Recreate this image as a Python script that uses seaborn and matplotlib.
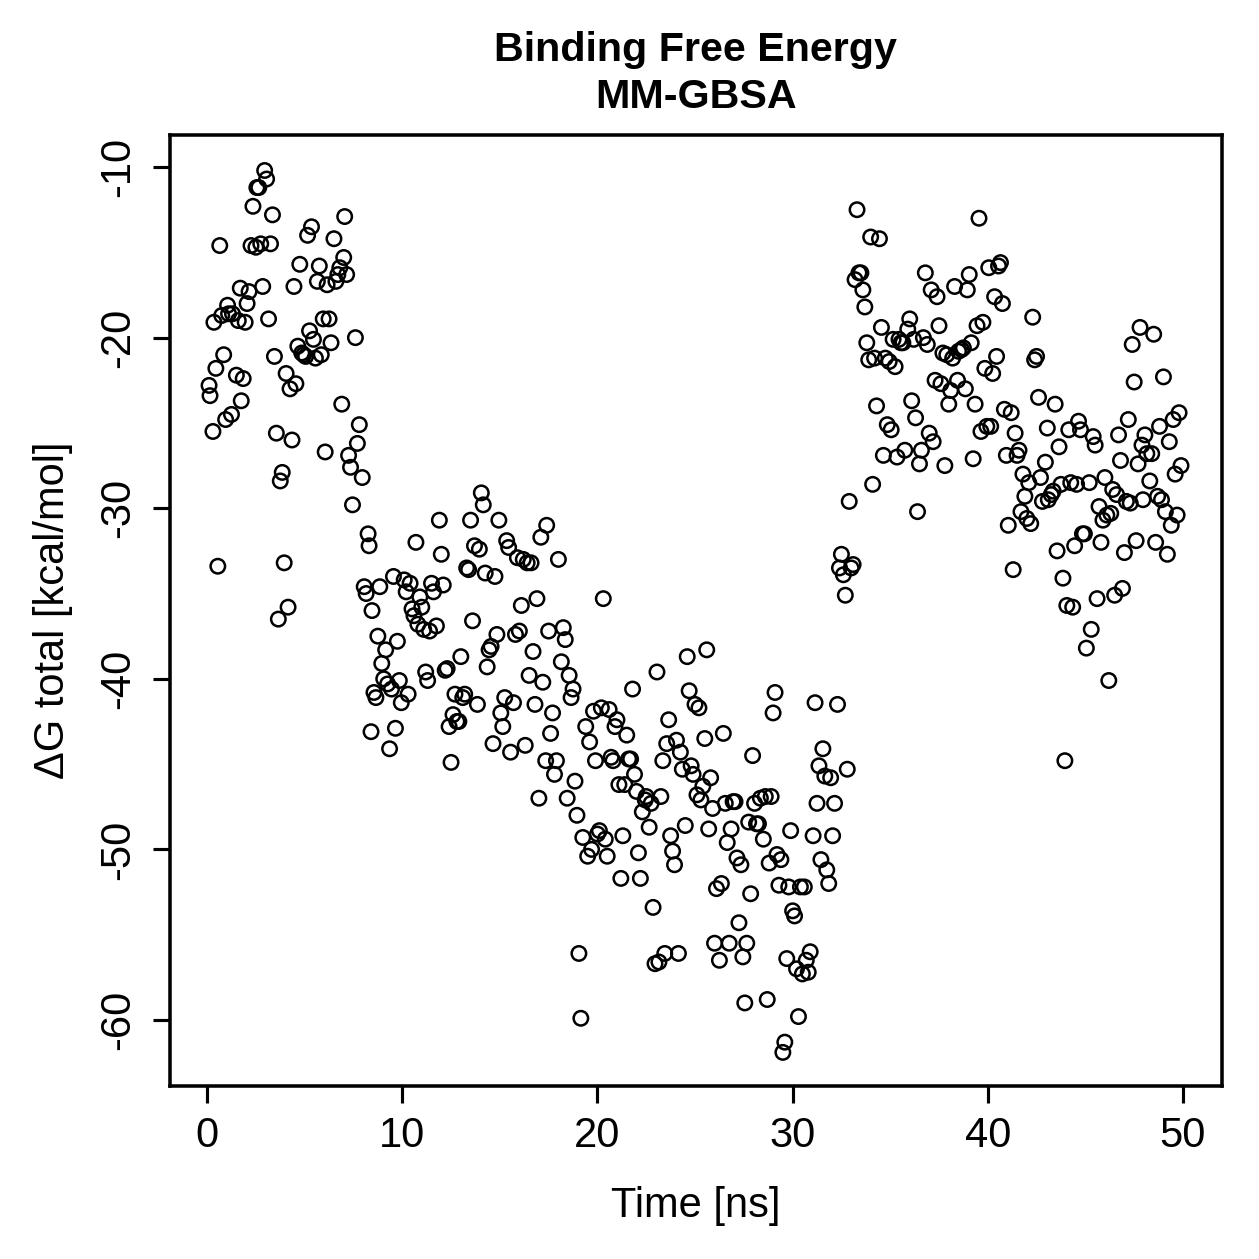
import numpy as np
import pandas as pd
import matplotlib
matplotlib.use("Agg")
import matplotlib.pyplot as plt
import seaborn as sns

time_ns = [
    0.1, 0.15, 0.3, 0.35, 0.45, 0.55, 0.65, 0.75, 0.85, 0.95, 1.05, 1.1, 1.25, 1.3, 1.5, 1.6, 1.7, 1.75, 1.85, 1.95,
    2.05, 2.15, 2.25, 2.35, 2.5, 2.55, 2.65, 2.75, 2.85, 2.95, 3.05, 3.15, 3.25, 3.35, 3.45, 3.55, 3.65, 3.75, 3.85, 3.95,
    4.05, 4.15, 4.25, 4.35, 4.45, 4.55, 4.65, 4.75, 4.85, 4.95,
    5.05, 5.15, 5.25, 5.35, 5.45, 5.55, 5.65, 5.75, 5.85, 5.95, 6.05, 6.15, 6.25, 6.35, 6.5, 6.6, 6.7, 6.8, 6.9, 7.0,
    7.05, 7.15, 7.25, 7.35, 7.45, 7.6, 7.7, 7.8, 7.95, 8.05, 8.15, 8.25, 8.3, 8.45, 8.55, 8.65, 8.75, 8.4, 8.85, 8.95,
    9.05, 9.15, 9.25, 9.35, 9.45, 9.55, 9.65, 9.75, 9.85, 9.95,
    10.1, 10.2, 10.3, 10.4, 10.5, 10.6, 10.7, 10.8, 10.9, 11.0, 11.1, 11.2, 11.3, 11.4, 11.5, 11.6, 11.75, 11.9, 12.0, 12.1,
    12.2, 12.3, 12.4, 12.5, 12.6, 12.7, 12.8, 12.9, 13.0, 13.1, 13.2, 13.3, 13.4, 13.5, 13.6, 13.7, 13.85, 13.95, 14.05, 14.15,
    14.25, 14.35, 14.45, 14.55, 14.65, 14.75, 14.85, 14.95,
    15.05, 15.15, 15.25, 15.35, 15.45, 15.55, 15.7, 15.8, 15.9, 16.0, 16.1, 16.2, 16.3, 16.4, 16.5, 16.6, 16.7, 16.8, 16.9, 17.0,
    17.1, 17.2, 17.35, 17.4, 17.5, 17.6, 17.7, 17.8, 17.9, 18.0, 18.15, 18.25, 18.35, 18.45, 18.55, 18.65, 18.75, 18.85, 18.95, 19.05,
    19.15, 19.25, 19.4, 19.5, 19.6, 19.7, 19.8, 19.9, 20.0,
    20.1, 20.2, 20.3, 20.4, 20.5, 20.6, 20.7, 20.8, 20.9, 21.0, 21.1, 21.2, 21.3, 21.4, 21.5, 21.6, 21.7, 21.8, 21.9, 22.0,
    22.1, 22.2, 22.3, 22.45, 22.5, 22.65, 22.75, 22.85, 22.95, 23.05, 23.15, 23.25, 23.35, 23.45, 23.55, 23.65, 23.75, 23.85, 23.95, 24.05,
    24.15, 24.25, 24.35, 24.5, 24.6, 24.7, 24.8, 24.9, 25.0,
    25.1, 25.2, 25.3, 25.4, 25.5, 25.6, 25.7, 25.8, 25.9, 26.0, 26.1, 26.25, 26.35, 26.45, 26.55, 26.65, 26.75, 26.85, 26.95, 27.05,
    27.15, 27.25, 27.35, 27.45, 27.55, 27.65, 27.75, 27.85, 27.95, 28.05, 28.15, 28.25, 28.35, 28.5, 28.6, 28.7, 28.8, 28.9, 29.0, 29.1,
    29.2, 29.3, 29.4, 29.5, 29.6, 29.7, 29.8, 29.9, 30.0,
    30.1, 30.2, 30.3, 30.4, 30.5, 30.6, 30.7, 30.8, 30.9, 31.05, 31.15, 31.25, 31.35, 31.45, 31.55, 31.65, 31.75, 31.85, 31.95, 32.05,
    32.15, 32.3, 32.4, 32.5, 32.6, 32.7, 32.8, 32.9, 33.0, 33.1, 33.2, 33.3, 33.4, 33.5, 33.6, 33.7, 33.8, 33.9, 34.0, 34.1,
    34.2, 34.3, 34.45, 34.55, 34.65, 34.75, 34.85, 34.95, 35.05,
    35.15, 35.25, 35.35, 35.45, 35.55, 35.65, 35.75, 35.9, 36.0, 36.1, 36.2, 36.3, 36.4, 36.5, 36.6, 36.7, 36.8, 36.9, 37.0, 37.1,
    37.2, 37.3, 37.4, 37.5, 37.6, 37.7, 37.8, 37.9, 38.0, 38.1, 38.2, 38.3, 38.45, 38.5, 38.65, 38.75, 38.85, 38.95, 39.05, 39.15,
    39.25, 39.35, 39.45, 39.55, 39.65, 39.75, 39.85, 39.95, 40.05,
    40.15, 40.25, 40.35, 40.45, 40.55, 40.65, 40.75, 40.85, 40.95, 41.05, 41.2, 41.3, 41.4, 41.5, 41.6, 41.7, 41.8, 41.9, 42.0, 42.1,
    42.2, 42.3, 42.4, 42.5, 42.6, 42.7, 42.8, 42.95, 43.05, 43.1, 43.25, 43.35, 43.45, 43.55, 43.65, 43.75, 43.85, 43.95, 44.05, 44.15,
    44.25, 44.35, 44.45, 44.55, 44.65, 44.75, 44.85, 44.95, 45.05, 45.2,
    45.3, 45.4, 45.5, 45.6, 45.7, 45.8, 45.9, 46.0, 46.1, 46.2, 46.3, 46.4, 46.5, 46.6, 46.7, 46.8, 46.9, 47.0, 47.1, 47.2,
    47.3, 47.4, 47.5, 47.6, 47.7, 47.8, 47.9, 47.95, 48.05, 48.15, 48.3, 48.4, 48.5, 48.6, 48.7, 48.8, 48.9, 49.0, 49.1, 49.2,
    49.3, 49.4, 49.5, 49.6, 49.7, 49.8, 49.9,
]

delta_g = [
    -22.8, -23.4, -25.5, -19.1, -21.8, -33.4, -14.6, -18.7, -21.0, -24.8, -18.1, -18.6, -24.5, -18.6, -22.2, -19.0, -17.1, -23.7, -22.4, -19.1,
    -18.0, -17.3, -14.6, -12.3, -14.7, -11.2, -11.2, -14.5, -17.0, -10.2, -10.7, -18.9, -14.5, -12.8, -21.1, -25.6, -36.5, -28.4, -27.9, -33.2,
    -22.1, -35.8, -23.0, -26.0, -17.0, -22.7, -20.5, -15.7, -20.9, -21.0,
    -21.1, -14.0, -19.6, -13.5, -20.1, -21.2, -16.7, -15.8, -21.0, -18.9, -26.7, -16.9, -18.9, -20.3, -14.2, -16.7, -16.3, -15.9, -23.9, -15.3,
    -12.9, -16.3, -26.9, -27.6, -29.8, -20.0, -26.2, -25.1, -28.2, -34.6, -35.0, -31.5, -32.2, -36.0, -40.8, -41.1, -37.5, -43.1, -34.6, -39.1,
    -40.0, -38.3, -40.3, -44.1, -40.6, -34.0, -42.9, -37.8, -40.1, -41.4,
    -34.2, -34.9, -40.9, -34.4, -35.9, -36.3, -32.0, -36.8, -35.2, -35.8, -37.1, -39.6, -40.1, -37.2, -34.4, -34.9, -36.9, -30.7, -32.7, -34.5,
    -39.5, -39.4, -42.8, -44.9, -42.1, -40.9, -42.5, -42.5, -38.7, -41.1, -40.9, -33.5, -33.6, -30.7, -36.6, -32.2, -41.5, -32.4, -29.1, -29.8,
    -33.8, -39.3, -38.3, -38.1, -43.8, -34.0, -37.4, -30.7,
    -42.0, -42.8, -41.1, -31.9, -32.3, -44.3, -41.4, -37.4, -32.9, -37.2, -35.7, -33.0, -43.9, -33.2, -39.8, -33.2, -38.4, -41.5, -35.3, -47.0,
    -31.7, -40.2, -44.8, -31.0, -37.2, -43.2, -42.0, -45.6, -44.8, -33.0, -39.0, -37.0, -37.7, -47.0, -39.8, -41.1, -40.6, -46.0, -48.0, -56.1,
    -59.9, -49.3, -42.8, -50.4, -43.7, -50.0, -41.9, -44.8, -49.1,
    -48.9, -41.7, -35.3, -49.4, -50.4, -41.8, -44.6, -44.8, -42.8, -42.4, -46.2, -51.7, -49.2, -46.2, -43.3, -44.7, -44.7, -40.6, -45.6, -46.6,
    -50.2, -51.7, -47.8, -47.1, -46.9, -48.7, -47.3, -53.4, -56.7, -39.6, -56.6, -46.9, -44.8, -56.1, -43.8, -42.4, -49.2, -50.1, -50.9, -43.6,
    -56.1, -44.3, -45.3, -48.6, -38.7, -40.7, -45.1, -45.6, -41.5,
    -46.8, -41.7, -47.1, -46.3, -43.5, -38.3, -48.8, -45.8, -47.6, -55.5, -52.3, -56.5, -52.0, -43.2, -47.3, -49.6, -55.5, -48.8, -47.2, -47.2,
    -50.5, -54.3, -50.9, -56.3, -59.0, -55.5, -48.4, -52.6, -44.5, -47.3, -48.5, -48.5, -47.0, -49.4, -46.9, -58.8, -50.8, -46.9, -42.0, -40.8,
    -50.3, -52.1, -50.6, -61.9, -61.3, -56.4, -52.2, -48.9, -53.6,
    -53.9, -57.0, -59.8, -52.2, -57.3, -52.2, -56.5, -57.2, -56.0, -49.2, -41.4, -47.3, -45.1, -50.6, -44.1, -45.7, -51.2, -52.0, -45.8, -49.2,
    -47.3, -41.5, -33.5, -32.7, -33.9, -35.1, -45.3, -29.6, -33.5, -33.3, -16.6, -12.5, -16.2, -16.2, -17.2, -18.2, -20.3, -21.3, -14.1, -28.6,
    -21.2, -24.0, -14.2, -19.4, -26.9, -21.2, -25.1, -21.4, -25.4,
    -20.1, -21.7, -27.0, -20.1, -20.3, -20.3, -26.6, -19.5, -18.9, -23.7, -20.1, -24.7, -30.2, -27.4, -26.6, -20.0, -16.2, -20.4, -25.6, -17.2,
    -26.1, -22.5, -17.6, -19.3, -22.7, -20.9, -27.5, -21.0, -23.9, -23.1, -21.2, -17.0, -22.5, -20.8, -20.7, -20.6, -23.0, -17.2, -16.3, -20.3,
    -27.1, -23.9, -19.3, -13.0, -25.5, -19.1, -21.8, -25.2, -15.9,
    -25.2, -22.1, -17.6, -21.1, -15.8, -15.6, -18.0, -24.2, -26.9, -31.0, -24.4, -33.6, -25.6, -26.9, -26.6, -30.2, -28.0, -29.3, -30.6, -28.5,
    -30.9, -18.8, -21.3, -21.1, -23.5, -28.2, -29.6, -27.3, -25.3, -29.5, -29.2, -29.0, -23.9, -32.5, -26.4, -28.6, -34.1, -44.8, -35.7, -25.4,
    -28.5, -35.8, -32.2, -28.6, -24.9, -25.4, -31.5, -31.5, -38.2, -28.5,
    -37.1, -25.8, -26.3, -35.3, -29.9, -32.0, -30.7, -28.2, -30.4, -40.1, -30.3, -28.9, -35.1, -29.2, -25.7, -27.2, -34.7, -32.6, -29.6, -24.8,
    -29.7, -20.4, -22.6, -31.9, -27.4, -19.4, -26.3, -29.5, -25.7, -26.8, -28.4, -26.8, -19.8, -32.0, -29.3, -25.2, -29.5, -22.3, -30.2, -32.7,
    -26.1, -31.0, -24.8, -28.0, -30.4, -24.4, -27.5,
]

x_ticks = [0, 10, 20, 30, 40, 50]
y_ticks = [-60, -50, -40, -30, -20, -10]

df = pd.DataFrame({"time": time_ns, "dg": delta_g})

sns.set_style("ticks")
plt.rcParams["font.family"] = ["Liberation Sans", "DejaVu Sans"]
plt.rcParams["text.color"] = "black"
plt.rcParams["axes.labelcolor"] = "black"
plt.rcParams["xtick.color"] = "black"
plt.rcParams["ytick.color"] = "black"

W = 1259 / 300
fig = plt.figure(figsize=(W, W), dpi=300)
ax = fig.add_axes([170 / 1259, 1 - 1086 / 1259, (1222 - 170) / 1259, (1086 - 135) / 1259])

sns.scatterplot(data=df, x="time", y="dg", ax=ax, marker="o", s=12,
                facecolor="none", edgecolor="black", linewidth=0.6, legend=False)
for coll in ax.collections:
    coll.set_facecolor("none")
    coll.set_edgecolor("black")

ax.set_xlim(-1.9, 52.0)
ax.set_ylim(-63.87, -8.12)
ax.set_xticks(x_ticks)
ax.set_yticks(y_ticks)
ax.set_xticklabels([str(v) for v in x_ticks], fontsize=10, color="black")
ax.set_yticklabels([str(v) for v in y_ticks], fontsize=10, rotation=90, va="center", color="black")
ax.tick_params(axis="both", direction="out", length=4.0, width=0.75, color="black", labelcolor="black")
ax.tick_params(axis="x", pad=3.3)
ax.tick_params(axis="y", pad=3.6)
for sp in ax.spines.values():
    sp.set_visible(True)
    sp.set_linewidth(0.85)
    sp.set_color("black")

ax.set_xlabel("Time [ns]", fontsize=10, labelpad=7.0, color="black")
ax.set_ylabel("ΔG total [kcal/mol]", fontsize=10, labelpad=6.0, color="black")
ax.set_title("Binding Free Energy\nMM-GBSA", fontsize=9.9, fontweight="bold", pad=6.5,
             linespacing=1.3, color="black")

fig.savefig("out.png", dpi=300)
